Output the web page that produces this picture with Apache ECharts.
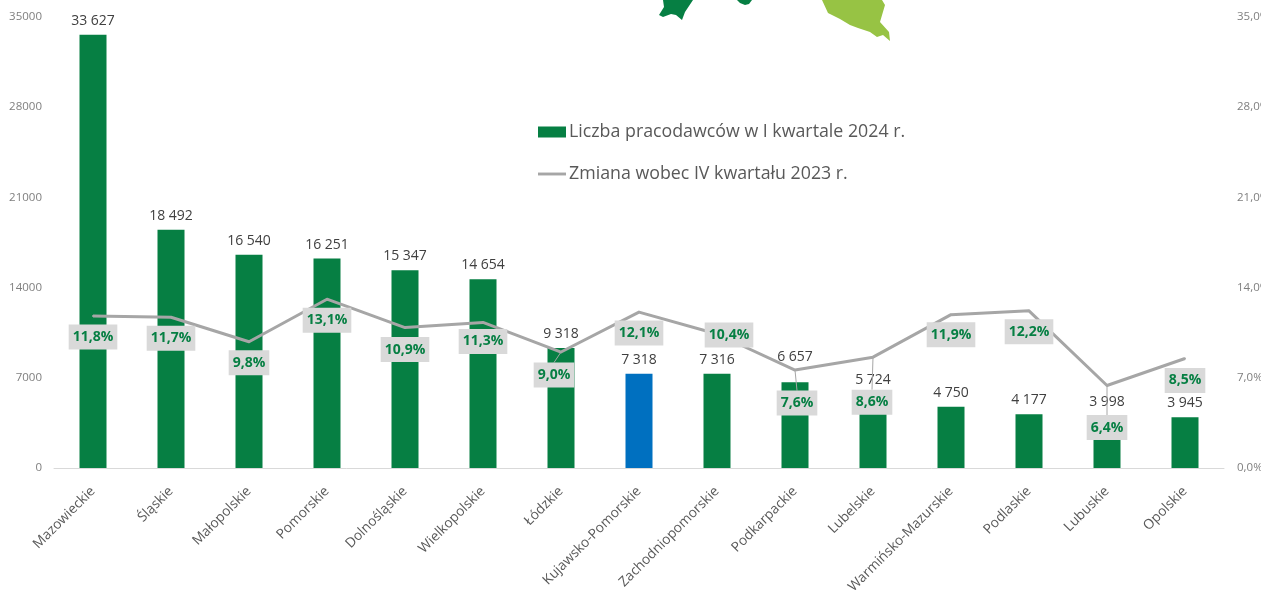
<!DOCTYPE html>
<html>
<head>
<meta charset="utf-8">
<style>html,body{margin:0;padding:0;background:#fff;overflow:hidden}#chart{width:1261px;height:591px}</style>
<script src="https://cdn.jsdelivr.net/npm/echarts@6/dist/echarts.min.js"></script>
</head>
<body>
<div id="chart"></div>
<script>
const regions = ['Mazowieckie', 'Śląskie', 'Małopolskie', 'Pomorskie', 'Dolnośląskie', 'Wielkopolskie', 'Łódzkie', 'Kujawsko-Pomorskie', 'Zachodniopomorskie', 'Podkarpackie', 'Lubelskie', 'Warmińsko-Mazurskie', 'Podlaskie', 'Lubuskie', 'Opolskie'];
const employers = [33627, 18492, 16540, 16251, 15347, 14654, 9318, 7318, 7316, 6657, 5724, 4750, 4177, 3998, 3945];
const changePct = [11.8, 11.7, 9.8, 13.1, 10.9, 11.3, 9.0, 12.1, 10.4, 7.6, 8.6, 11.9, 12.2, 6.4, 8.5];
const highlighted = 'Kujawsko-Pomorskie';

// hand placed label nudges, same as in the source chart
const pctLabelShift = [[0, 21], [0, 21], [0, 21], [0, 21], [0, 22], [0, 19], [-7, 23], [0, 21], [12, 1], [2, 33], [-1, 45], [0, 20], [0, 21], [0, 42], [0, 22]];
const leaderLines = ['Łódzkie', 'Podkarpackie', 'Lubelskie', 'Lubuskie'];

// cut off map fragments at the top edge of the slide
const mapDark1 = [[663, 0], [664, 7], [659, 15], [663, 17], [671, 14], [676, 15], [682, 20], [685, 12], [693, 0]];
const mapDark2 = [[737, 0], [740, 3], [745, 5], [749, 4], [752, 0]];
const mapLight = [[822, 0], [828, 13], [840, 19], [850, 25], [858, 28], [870, 32], [877, 37], [883, 35], [890, 41], [889, 32], [880, 22], [885, 5], [882, 0]];

const GREEN = '#067F43';
const LIGHT_GREEN = '#97C344';
const BLUE = '#0070C0';
const GREY_LINE = '#A6A6A6';
const FONT = '"Open Sans", sans-serif';

const spaced = v => String(v).replace(/\B(?=(\d{3})+$)/g, '\u00a0');
const comma = v => v.toFixed(1).replace('.', ',');
const poly = (points, fill) => ({type: 'polygon', shape: {points}, style: {fill}, silent: true});

const chart = echarts.init(document.getElementById('chart'), null, {renderer: 'canvas'});

chart.setOption({
  animation: false,
  backgroundColor: '#fff',
  grid: {left: 54, right: 37, top: 17, bottom: 123, outerBoundsMode: 'none'},
  graphic: [poly(mapDark1, GREEN), poly(mapDark2, GREEN), poly(mapLight, LIGHT_GREEN)],
  legend: {
    orient: 'vertical',
    left: 538,
    top: 123,
    padding: 0,
    itemWidth: 28,
    itemHeight: 11,
    itemGap: 24,
    selectedMode: false,
    textStyle: {color: '#595959', fontSize: 17.8, fontFamily: FONT, padding: [0, 0, 0, -2]},
    data: [
      {name: 'Liczba pracodawców w I kwartale 2024 r.', icon: 'rect', itemStyle: {color: GREEN}},
      {name: 'Zmiana wobec IV kwartału 2023 r.', icon: 'path://M0 4H29V7H0Z', itemStyle: {color: GREY_LINE}}
    ]
  },
  xAxis: {
    type: 'category',
    data: regions,
    axisTick: {show: false},
    axisLine: {lineStyle: {color: '#D9D9D9', width: 1}},
    axisLabel: {interval: 0, rotate: 45, margin: 21, color: '#595959', fontSize: 13.7, fontFamily: FONT}
  },
  yAxis: [
    {
      type: 'value', min: 0, max: 35000, interval: 7000,
      splitLine: {show: false}, axisLine: {show: false}, axisTick: {show: false},
      axisLabel: {margin: 12, color: '#7F7F7F', fontSize: 11.5, fontFamily: FONT, formatter: v => String(v)}
    },
    {
      type: 'value', min: 0, max: 35, interval: 7,
      splitLine: {show: false}, axisLine: {show: false}, axisTick: {show: false},
      axisLabel: {margin: 13, color: '#7F7F7F', fontSize: 11.5, fontFamily: FONT,
        formatter: v => comma(v) + '%'}
    }
  ],
  series: [
    {
      name: 'Liczba pracodawców w I kwartale 2024 r.',
      type: 'bar',
      barWidth: 27,
      data: employers.map((v, i) => ({
        value: v,
        itemStyle: {color: regions[i] === highlighted ? BLUE : GREEN},
        label: regions[i] === 'Podkarpackie' ? {offset: [0, -11]} : undefined
      })),
      label: {
        show: true, position: 'top', distance: 7,
        color: '#404040', fontSize: 14, fontFamily: FONT,
        formatter: p => spaced(p.value)
      }
    },
    {
      name: 'Zmiana wobec IV kwartału 2023 r.',
      type: 'line',
      yAxisIndex: 1,
      symbol: 'circle',
      symbolSize: 2,
      itemStyle: {color: GREY_LINE},
      z: 5,
      lineStyle: {color: GREY_LINE, width: 3, join: 'round'},
      data: changePct.map((v, i) => ({
        value: v,
        labelLine: {show: leaderLines.includes(regions[i])}
      })),
      label: {
        show: true, position: 'inside',
        color: GREEN, fontSize: 14, fontWeight: 'bold', fontFamily: FONT,
        backgroundColor: '#D9D9D9', padding: [6, 4, 5, 4],
        formatter: p => comma(p.value) + '%'
      },
      labelLine: {show: false, lineStyle: {color: GREY_LINE, width: 1}},
      labelLayout: p => ({dx: pctLabelShift[p.dataIndex][0], dy: pctLabelShift[p.dataIndex][1]})
    }
  ]
});
</script>
</body>
</html>
